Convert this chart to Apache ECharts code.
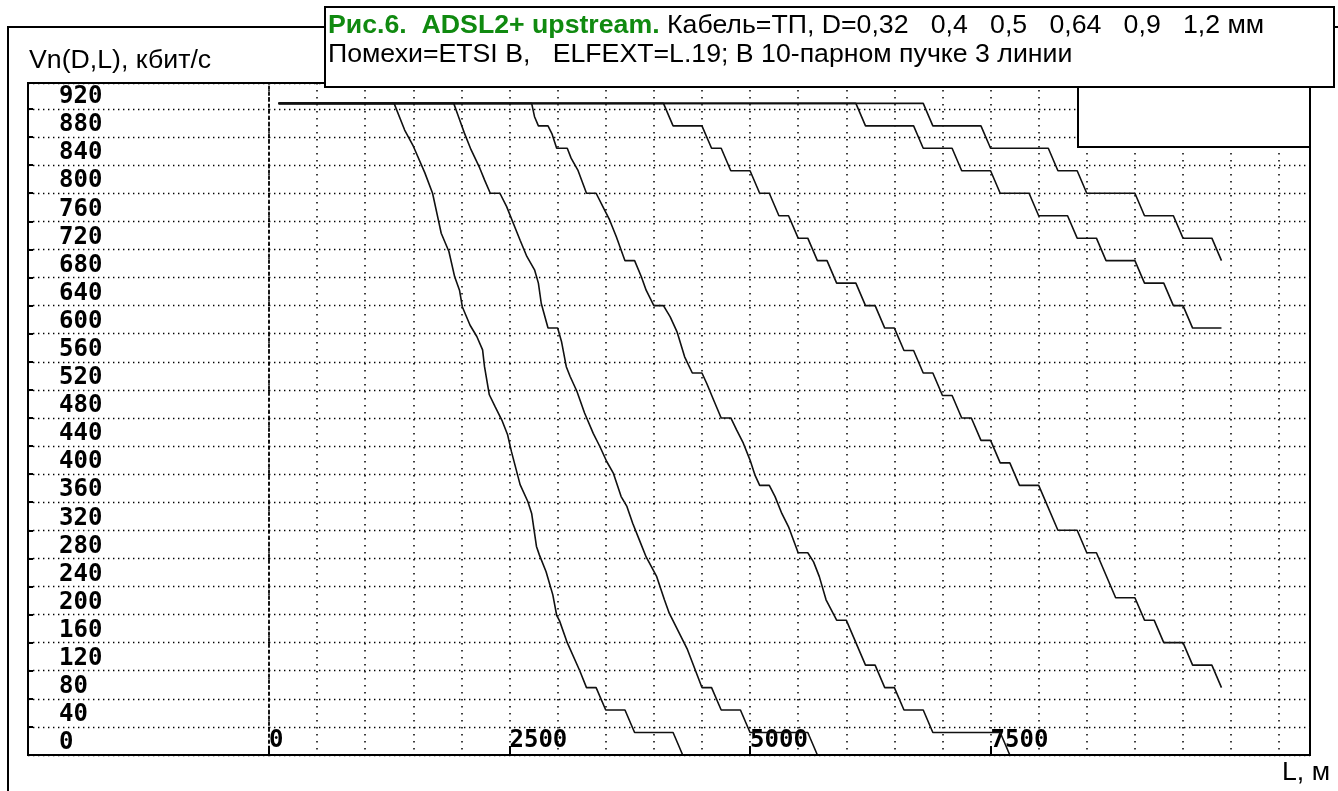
<!DOCTYPE html>
<html>
<head>
<meta charset="utf-8">
<title>Рис.6. ADSL2+ upstream</title>
<script src="https://cdn.jsdelivr.net/npm/echarts@6/dist/echarts.min.js"></script>
<style>
  html, body { margin: 0; padding: 0; background: #fff; }
  #chart { width: 1338px; height: 791px; }
</style>
</head>
<body>
<div id="chart"></div>
<script>
// Line length L (m) and rate Vn (kbit/s) for each wire diameter D
const lenD032 = [100, 1300, 1410, 1500, 1620, 1700, 1760, 1790, 1870, 1930, 1980, 2010, 2090, 2160, 2220, 2240, 2290, 2350, 2420, 2480, 2520, 2610, 2690, 2730, 2780, 2810, 2880, 2950, 2990, 3020, 3100, 3230, 3300, 3400, 3500, 3700, 3800, 4200, 4300];
const rateD032 = [928, 928, 890, 867, 829, 800, 762, 743, 717, 681, 662, 638, 612, 596, 577, 553, 513, 496, 477, 456, 432, 385, 361, 344, 297, 285, 261, 228, 199, 191, 160, 120, 96, 96, 64, 64, 32, 32, 0];

const lenD04 = [100, 1920, 1970, 2030, 2100, 2190, 2240, 2300, 2400, 2470, 2540, 2610, 2680, 2760, 2800, 2830, 2900, 3000, 3040, 3090, 3130, 3200, 3280, 3370, 3440, 3510, 3580, 3660, 3720, 3780, 3850, 3920, 4030, 4110, 4160, 4350, 4500, 4600, 4700, 4900, 5000, 5600, 5700];
const rateD04 = [928, 928, 909, 886, 862, 836, 819, 800, 800, 781, 757, 733, 710, 691, 672, 643, 608, 608, 589, 553, 539, 518, 487, 458, 439, 418, 401, 368, 354, 330, 306, 282, 254, 221, 202, 150, 96, 96, 64, 64, 32, 32, 0];

const lenD05 = [100, 2730, 2760, 2800, 2900, 2940, 2990, 3100, 3140, 3210, 3300, 3400, 3470, 3540, 3610, 3700, 3800, 3870, 3920, 4000, 4100, 4170, 4240, 4320, 4400, 4500, 4550, 4620, 4700, 4800, 4860, 4930, 5000, 5050, 5100, 5200, 5260, 5330, 5400, 5500, 5600, 5660, 5720, 5790, 5900, 6000, 6200, 6300, 6400, 6500, 6600, 6800, 6900, 7600, 7700];
const rateD05 = [928, 928, 909, 896, 896, 885, 864, 864, 850, 833, 800, 800, 781, 762, 738, 704, 704, 681, 662, 640, 640, 624, 603, 567, 544, 544, 529, 506, 480, 480, 463, 444, 420, 399, 384, 384, 368, 344, 325, 288, 288, 275, 254, 221, 192, 192, 128, 128, 96, 96, 64, 64, 32, 32, 0];

const lenD064 = [100, 4100, 4200, 4500, 4600, 4700, 4800, 5000, 5100, 5200, 5300, 5400, 5500, 5600, 5700, 5800, 5900, 6100, 6200, 6300, 6400, 6500, 6600, 6700, 6800, 6900, 7000, 7100, 7200, 7300, 7400, 7500, 7600, 7700, 7800, 8000, 8200, 8400, 8500, 8600, 8800, 9000, 9100, 9200, 9300, 9500, 9600, 9800, 9900];
const rateD064 = [928, 928, 896, 896, 864, 864, 832, 832, 800, 800, 768, 768, 736, 736, 704, 704, 672, 672, 640, 640, 608, 608, 576, 576, 544, 544, 512, 512, 480, 480, 448, 448, 416, 416, 384, 384, 320, 320, 288, 288, 224, 224, 192, 192, 160, 160, 128, 128, 96];

const lenD09 = [100, 6100, 6200, 6700, 6800, 7100, 7200, 7500, 7600, 7900, 8000, 8300, 8400, 8600, 8700, 9000, 9100, 9300, 9400, 9500, 9600, 9900];
const rateD09 = [928, 928, 896, 896, 864, 864, 832, 832, 800, 800, 768, 768, 736, 736, 704, 704, 672, 672, 640, 640, 608, 608];

const lenD12 = [100, 6800, 6900, 7400, 7500, 8100, 8200, 8400, 8500, 9000, 9100, 9400, 9500, 9800, 9900];
const rateD12 = [928, 928, 896, 896, 864, 864, 832, 832, 800, 800, 768, 768, 736, 736, 704];

const diameters = ['0,32', '0,4', '0,5', '0,64', '0,9', '1,2'];
const lengths = [lenD032, lenD04, lenD05, lenD064, lenD09, lenD12];
const rates = [rateD032, rateD04, rateD05, rateD064, rateD09, rateD12];

const xLabelValues = [0, 2500, 5000, 7500];

const textFont = 'Liberation Sans, Arial, sans-serif';
const tickFont = 'DejaVu Sans Mono, monospace';

const chart = echarts.init(document.getElementById('chart'), null, { renderer: 'canvas' });

const toPoints = (ls, vs) => ls.map((l, i) => [l, vs[i]]);

const hDots = { color: '#000', width: 1.4, type: [1.4, 3.6] };
const vDots = { color: '#000', width: 1.5, type: [1.5, 5.5] };
const tickLabel = { color: '#000', fontFamily: tickFont, fontWeight: 'bold', fontSize: 24 };

const option = {
  animation: false,
  backgroundColor: '#fff',
  grid: [
    // strip with the rate labels
    { left: 28, top: 83, width: 241, bottom: 36 },
    // the plot itself
    { left: 269, top: 83, right: 28, bottom: 36 }
  ],
  xAxis: [
    { gridIndex: 0, type: 'value', min: 0, max: 1, show: false },
    {
      // 500 m grid
      gridIndex: 1,
      position: 'bottom',
      type: 'value',
      min: 0,
      max: 10820,
      interval: 500,
      axisLine: { show: false },
      axisTick: { show: false },
      axisLabel: { show: false },
      splitLine: { show: true, lineStyle: vDots }
    },
    {
      // labelled marks every 2500 m
      gridIndex: 1,
      position: 'bottom',
      type: 'value',
      min: 0,
      max: 10820,
      interval: 2500,
      axisLine: { show: false },
      axisTick: {
        show: true,
        inside: true,
        length: 9,
        customValues: xLabelValues,
        lineStyle: { color: '#000', width: 2 }
      },
      axisLabel: Object.assign({
        inside: true,
        customValues: xLabelValues,
        formatter: v => String(v),
        align: 'left',
        margin: 2
      }, tickLabel),
      splitLine: { show: false }
    }
  ],
  yAxis: [
    {
      gridIndex: 0,
      type: 'value',
      min: 0,
      max: 957,
      interval: 40,
      axisLine: { show: false },
      axisTick: { show: true, inside: true, length: 5, lineStyle: { color: '#000', width: 2 } },
      axisLabel: Object.assign({
        inside: true,
        margin: 31,
        verticalAlign: 'bottom',
        showMaxLabel: false,
        formatter: v => (v % 40 === 0 ? String(v) : '')
      }, tickLabel),
      splitLine: { show: true, lineStyle: hDots }
    },
    {
      gridIndex: 1,
      type: 'value',
      min: 0,
      max: 957,
      interval: 40,
      axisLine: { show: true, lineStyle: { color: '#000', width: 1.8, type: [2.5, 3.5] } },
      axisTick: { show: false },
      axisLabel: { show: false },
      splitLine: { show: true, lineStyle: hDots }
    }
  ],
  series: diameters.map((d, i) => ({
    name: 'D=' + d,
    type: 'line',
    xAxisIndex: 1,
    yAxisIndex: 1,
    data: toPoints(lengths[i], rates[i]),
    showSymbol: false,
    symbol: 'none',
    lineStyle: { color: '#111', width: 1.6 },
    z: 3
  })),
  graphic: {
    elements: [
      // outer frame
      {
        type: 'polyline',
        z: 50,
        shape: { points: [[8, 791], [8, 27], [1338, 27]] },
        style: { stroke: '#000', lineWidth: 2, fill: null }
      },
      // plot frame
      {
        type: 'rect',
        z: 50,
        shape: { x: 28, y: 83, width: 1282, height: 672 },
        style: { stroke: '#000', lineWidth: 2, fill: null }
      },
      // title box
      {
        type: 'rect',
        z: 100,
        shape: { x: 325, y: 7, width: 1009, height: 80 },
        style: { stroke: '#000', lineWidth: 2, fill: '#fff' }
      },
      // empty legend box
      {
        type: 'rect',
        z: 100,
        shape: { x: 1078, y: 87, width: 232, height: 60 },
        style: { stroke: '#000', lineWidth: 2, fill: '#fff' }
      },
      {
        type: 'text',
        z: 101,
        x: 328,
        y: 12,
        style: {
          text: '{g|Рис.6.  ADSL2+ upstream.} Кабель=ТП, D=' + diameters.join('   ') + ' мм',
          fontFamily: textFont,
          fontSize: 26.7,
          fill: '#000',
          verticalAlign: 'top',
          rich: {
            g: { fill: '#108a10', fontWeight: 'bold', fontFamily: textFont, fontSize: 26.7 }
          }
        }
      },
      {
        type: 'text',
        z: 101,
        x: 328,
        y: 41,
        style: {
          text: 'Помехи=ETSI B,   ELFEXT=L.19; В 10-парном пучке 3 линии',
          fontFamily: textFont,
          fontSize: 26.7,
          fill: '#000',
          verticalAlign: 'top'
        }
      },
      // axis names
      {
        type: 'text',
        z: 101,
        x: 29,
        y: 47,
        style: { text: 'Vn(D,L), кбит/с', fontFamily: textFont, fontSize: 26.7, fill: '#000', verticalAlign: 'top' }
      },
      {
        type: 'text',
        z: 101,
        x: 1282,
        y: 759,
        style: { text: 'L, м', fontFamily: textFont, fontSize: 26.7, fill: '#000', verticalAlign: 'top' }
      }
    ]
  }
};

chart.setOption(option);
window.addEventListener('resize', () => chart.resize());
</script>
</body>
</html>
